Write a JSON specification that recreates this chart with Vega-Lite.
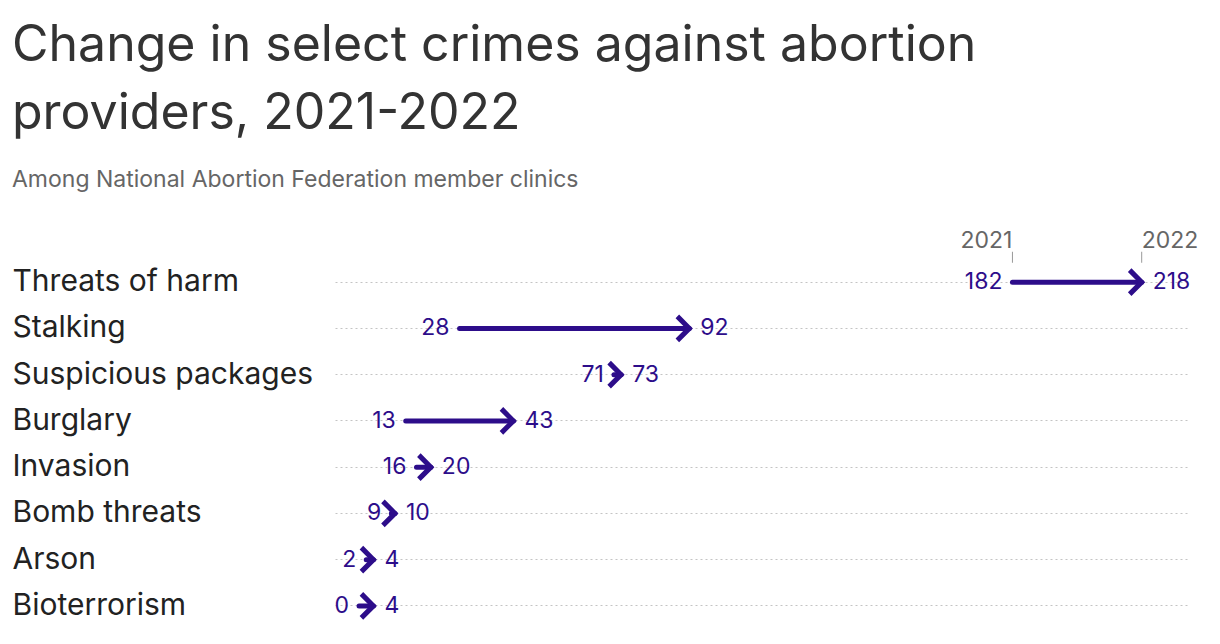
{
  "$schema": "https://vega.github.io/schema/vega-lite/v6.json",
  "autosize": {"type": "none"},
  "padding": {"left": 335, "top": 259, "right": 32, "bottom": 15},
  "width": 853,
  "height": 370,
  "background": "white",
  "title": {
    "text": ["Change in select crimes against abortion", "providers, 2021-2022"],
    "subtitle": "Among National Abortion Federation member clinics",
    "anchor": "start",
    "frame": "group",
    "dx": -323,
    "offset": 38,
    "font": "Inter",
    "fontSize": 50,
    "fontWeight": 400,
    "color": "#333333",
    "lineHeight": 68,
    "subtitleFont": "Inter",
    "subtitleFontSize": 23,
    "subtitleColor": "#666666",
    "subtitlePadding": 30
  },
  "datasets": {
    "rows": [
      {"crime": "Threats of harm", "y2021": 182, "y2022": 218},
      {"crime": "Stalking", "y2021": 28, "y2022": 92},
      {"crime": "Suspicious packages", "y2021": 71, "y2022": 73},
      {"crime": "Burglary", "y2021": 13, "y2022": 43},
      {"crime": "Invasion", "y2021": 16, "y2022": 20},
      {"crime": "Bomb threats", "y2021": 9, "y2022": 10},
      {"crime": "Arson", "y2021": 2, "y2022": 4},
      {"crime": "Bioterrorism", "y2021": 0, "y2022": 4}
    ],
    "header": [
      {"crime": "Threats of harm", "year": "2021", "v": 182},
      {"crime": "Threats of harm", "year": "2022", "v": 218}
    ]
  },
  "data": {"name": "rows"},
  "encoding": {
    "y": {
      "field": "crime",
      "type": "nominal",
      "scale": {
        "domain": ["Threats of harm", "Stalking", "Suspicious packages", "Burglary", "Invasion", "Bomb threats", "Arson", "Bioterrorism"],
        "paddingInner": 0,
        "paddingOuter": 0
      },
      "axis": {
        "title": null,
        "domain": false,
        "ticks": false,
        "grid": true,
        "bandPosition": 0.5,
        "gridDash": [2, 3],
        "gridColor": "#c4c4c4",
        "gridWidth": 1,
        "labelFont": "Inter",
        "labelFontSize": 30,
        "labelColor": "#222222",
        "labelAlign": "left",
        "labelBaseline": "middle",
        "labelPadding": 323,
        "labelLimit": 0
      }
    }
  },
  "layer": [
    {
      "mark": {"type": "rule", "strokeWidth": 5, "strokeCap": "round", "color": "#2D0D8A"},
      "encoding": {
        "x": {"field": "y2021", "type": "quantitative", "scale": {"domain": [-6.7, 230.9], "nice": false, "zero": false}, "axis": null},
        "x2": {"field": "y2022"}
      }
    },
    {
      "mark": {"type": "point", "shape": "M-1,-1L0,0L-1,1", "size": 576, "filled": false, "strokeWidth": 5, "strokeJoin": "miter", "strokeCap": "butt", "color": "#2D0D8A", "opacity": 1},
      "encoding": {
        "x": {"field": "y2022", "type": "quantitative"}
      }
    },
    {
      "mark": {"type": "text", "align": "right", "baseline": "middle", "dx": -10, "font": "Inter", "fontSize": 23, "color": "#2D0D8A"},
      "encoding": {
        "x": {"field": "y2021", "type": "quantitative"},
        "text": {"field": "y2021", "type": "quantitative"}
      }
    },
    {
      "mark": {"type": "text", "align": "left", "baseline": "middle", "dx": 11, "font": "Inter", "fontSize": 23, "color": "#2D0D8A"},
      "encoding": {
        "x": {"field": "y2022", "type": "quantitative"},
        "text": {"field": "y2022", "type": "quantitative"}
      }
    },
    {
      "data": {"name": "header"},
      "transform": [{"filter": "datum.year == '2021'"}],
      "mark": {"type": "text", "align": "right", "baseline": "alphabetic", "dy": -34, "font": "Inter", "fontSize": 23, "color": "#666666"},
      "encoding": {
        "x": {"field": "v", "type": "quantitative"},
        "text": {"field": "year", "type": "nominal"}
      }
    },
    {
      "data": {"name": "header"},
      "transform": [{"filter": "datum.year == '2022'"}],
      "mark": {"type": "text", "align": "left", "baseline": "alphabetic", "dy": -34, "font": "Inter", "fontSize": 23, "color": "#666666"},
      "encoding": {
        "x": {"field": "v", "type": "quantitative"},
        "text": {"field": "year", "type": "nominal"}
      }
    },
    {
      "data": {"name": "header"},
      "mark": {"type": "tick", "orient": "vertical", "yOffset": -25, "size": 11, "thickness": 1, "color": "#999999", "opacity": 1},
      "encoding": {
        "x": {"field": "v", "type": "quantitative"}
      }
    }
  ],
  "config": {
    "view": {"stroke": null}
  }
}
